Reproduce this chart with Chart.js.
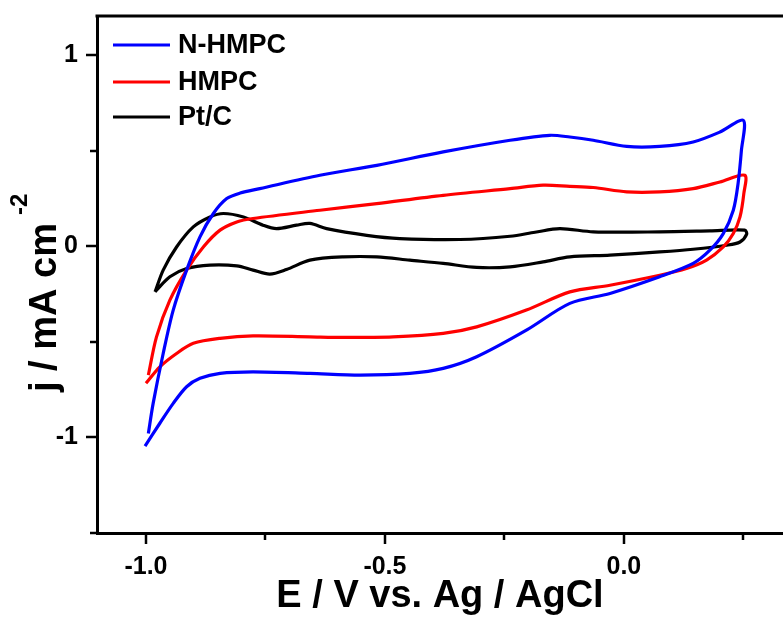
<!DOCTYPE html>
<html>
<head>
<meta charset="utf-8">
<script src="https://cdn.jsdelivr.net/npm/chart.js@4.4.1/dist/chart.umd.min.js"></script>
<style>
  html, body { margin: 0; padding: 0; background: #fff; }
  #wrap { position: relative; width: 783px; height: 622px; }
</style>
</head>
<body>
<div id="wrap"><canvas id="cvChart"></canvas></div>
<script>
// CV curves (E in V vs Ag/AgCl, j in mA cm-2)
const seriesNames = ['N-HMPC', 'HMPC', 'Pt/C'];

const potentialNHMPC = [-0.995, -0.985, -0.964, -0.943, -0.915, -0.887, -0.859, -0.831, -0.803, -0.762, -0.636, -0.517, -0.378, -0.238, -0.155, -0.113, -0.064, 0.006, 0.075, 0.145, 0.201, 0.250,
  0.246, 0.239, 0.229, 0.208, 0.180, 0.145, 0.075, -0.029, -0.113, -0.204, -0.308, -0.378, -0.448, -0.552, -0.657, -0.776, -0.845, -0.887, -0.915, -0.943, -0.971, -1.002];
const currentNHMPC = [-0.979, -0.822, -0.561, -0.334, -0.125, 0.049, 0.171, 0.249, 0.278, 0.301, 0.371, 0.423, 0.493, 0.554, 0.580, 0.571, 0.554, 0.522, 0.522, 0.545, 0.597, 0.658,
  0.502, 0.328, 0.188, 0.066, -0.021, -0.090, -0.160, -0.247, -0.299, -0.439, -0.578, -0.639, -0.665, -0.674, -0.665, -0.657, -0.665, -0.691, -0.735, -0.822, -0.926, -1.045];

const potentialHMPC = [-0.995, -0.978, -0.950, -0.915, -0.880, -0.845, -0.810, -0.776, -0.636, -0.517, -0.378, -0.238, -0.169, -0.113, -0.064, 0.006, 0.075, 0.145, 0.201, 0.253,
  0.251, 0.243, 0.229, 0.208, 0.173, 0.131, 0.075, -0.029, -0.113, -0.204, -0.308, -0.378, -0.483, -0.587, -0.657, -0.776, -0.845, -0.901, -0.936, -0.971, -1.000];
const currentHMPC = [-0.674, -0.474, -0.282, -0.125, -0.004, 0.084, 0.127, 0.145, 0.188, 0.223, 0.266, 0.301, 0.319, 0.313, 0.307, 0.284, 0.284, 0.301, 0.336, 0.371,
  0.275, 0.153, 0.066, -0.004, -0.073, -0.117, -0.152, -0.204, -0.239, -0.334, -0.422, -0.456, -0.474, -0.477, -0.474, -0.469, -0.482, -0.508, -0.561, -0.631, -0.717];

const potentialPtC = [-0.981, -0.964, -0.936, -0.901, -0.866, -0.838, -0.796, -0.755, -0.727, -0.685, -0.657, -0.622, -0.538, -0.469, -0.343, -0.238, -0.186, -0.134, -0.064, 0.075, 0.180, 0.253,
  0.257, 0.243, 0.215, 0.145, 0.075, -0.029, -0.113, -0.169, -0.238, -0.308, -0.378, -0.448, -0.517, -0.587, -0.657, -0.706, -0.741, -0.776, -0.810, -0.866, -0.915, -0.950, -0.978, -0.981];
const currentPtC = [-0.239, -0.125, -0.004, 0.101, 0.153, 0.171, 0.153, 0.110, 0.092, 0.110, 0.119, 0.092, 0.057, 0.040, 0.035, 0.052, 0.073, 0.092, 0.075, 0.075, 0.080, 0.084,
  0.063, 0.022, 0.005, -0.016, -0.030, -0.047, -0.056, -0.082, -0.108, -0.111, -0.090, -0.073, -0.056, -0.056, -0.073, -0.122, -0.146, -0.125, -0.103, -0.099, -0.117, -0.160, -0.230, -0.239];

const xTickValues = [-1.0, -0.75, -0.5, -0.25, 0.0, 0.25];
const xMajorTicks = [-1.0, -0.5, 0.0];
const yTickValues = [-1.5, -1.0, -0.5, 0.0, 0.5, 1.0];
const yMajorTicks = [-1.0, 0.0, 1.0];

const lineColors = ['#0000ff', '#ff0000', '#000000'];
const fontFamily = '"Liberation Sans", Arial, sans-serif';

function toPoints(xs, ys) {
    return xs.map((x, i) => ({ x: x, y: ys[i] }));
}

function isMajor(list, v) {
    return list.some(m => Math.abs(m - v) < 1e-9);
}

// tick marks (major long, minor short) + top frame line
const frameTicks = {
    id: 'frameTicks',
    afterDraw(chart) {
        const ctx = chart.ctx;
        const area = chart.chartArea;
        const xs = chart.scales.x, ys = chart.scales.y;
        ctx.save();
        ctx.strokeStyle = '#000';
        ctx.lineWidth = 3;
        ctx.beginPath();
        ctx.moveTo(area.left - 1.5, area.top);
        ctx.lineTo(area.right, area.top);
        ctx.stroke();
        ctx.lineWidth = 2.5;
        xTickValues.forEach(v => {
            const px = Math.round(xs.getPixelForValue(v));
            const len = isMajor(xMajorTicks, v) ? 11 : 7;
            ctx.beginPath();
            ctx.moveTo(px, area.bottom);
            ctx.lineTo(px, area.bottom + len);
            ctx.stroke();
        });
        yTickValues.forEach(v => {
            const py = Math.round(ys.getPixelForValue(v));
            const len = isMajor(yMajorTicks, v) ? 11 : 7;
            ctx.beginPath();
            ctx.moveTo(area.left, py);
            ctx.lineTo(area.left - len, py);
            ctx.stroke();
        });
        ctx.restore();
    }
};

// y title with superscript, and the line legend
const titlesAndLegend = {
    id: 'titlesAndLegend',
    afterDraw(chart) {
        const ctx = chart.ctx;
        ctx.save();
        ctx.fillStyle = '#000';
        ctx.textBaseline = 'alphabetic';
        ctx.textAlign = 'left';
        ctx.translate(56, 392);
        ctx.rotate(-Math.PI / 2);
        ctx.font = 'bold 38px ' + fontFamily;
        ctx.fillText('j / mA cm', 0, 0);
        const w = ctx.measureText('j / mA cm').width;
        ctx.font = 'bold 24px ' + fontFamily;
        ctx.fillText('-2', w + 8, -29);
        ctx.restore();

        ctx.save();
        ctx.font = 'bold 27px ' + fontFamily;
        ctx.textBaseline = 'middle';
        ctx.textAlign = 'left';
        const rows = [45, 82, 117];
        chart.data.datasets.forEach((ds, i) => {
            ctx.strokeStyle = ds.borderColor;
            ctx.lineWidth = 3.2;
            ctx.beginPath();
            ctx.moveTo(113, rows[i]);
            ctx.lineTo(170, rows[i]);
            ctx.stroke();
            ctx.fillStyle = '#000';
            ctx.fillText(ds.label, 178, rows[i] + 1);
        });
        ctx.restore();
    }
};

const ctx = document.getElementById('cvChart').getContext('2d');
new Chart(ctx, {
    type: 'scatter',
    data: {
        datasets: [
            { label: seriesNames[0], data: toPoints(potentialNHMPC, currentNHMPC), borderColor: lineColors[0] },
            { label: seriesNames[1], data: toPoints(potentialHMPC, currentHMPC), borderColor: lineColors[1] },
            { label: seriesNames[2], data: toPoints(potentialPtC, currentPtC), borderColor: lineColors[2] }
        ]
    },
    options: {
        responsive: true,
        maintainAspectRatio: false,
        devicePixelRatio: 1,
        animation: false,
        showLine: true,
        elements: {
            point: { radius: 0, hoverRadius: 0 },
            line: { borderWidth: 3.2, tension: 0.3, fill: false }
        },
        layout: { padding: { top: 16, right: 0, left: 0, bottom: 0 } },
        plugins: { legend: { display: false }, tooltip: { enabled: false } },
        scales: {
            x: {
                type: 'linear',
                min: -1.1025,
                max: 0.333,
                afterFit: s => { s.height = 89; s.paddingLeft = 0; s.paddingRight = 0; },
                afterBuildTicks: s => { s.ticks = xTickValues.map(v => ({ value: v })); },
                grid: { display: false, drawTicks: true, tickLength: 10 },
                border: { display: true, color: '#000', width: 3 },
                ticks: {
                    color: '#000',
                    padding: 9,
                    maxRotation: 0,
                    font: { family: fontFamily, size: 25, weight: 'bold' },
                    callback: v => isMajor(xMajorTicks, v) ? v.toFixed(1) : ''
                },
                title: {
                    display: true,
                    text: 'E / V vs. Ag / AgCl',
                    color: '#000',
                    padding: { top: 0, bottom: 3 },
                    font: { family: fontFamily, size: 38, weight: 'bold' }
                }
            },
            y: {
                type: 'linear',
                min: -1.5,
                max: 1.204,
                afterFit: s => { s.width = 97; s.paddingTop = 0; s.paddingBottom = 0; },
                afterBuildTicks: s => { s.ticks = yTickValues.map(v => ({ value: v })); },
                grid: { display: false, drawTicks: true, tickLength: 10 },
                border: { display: true, color: '#000', width: 3 },
                ticks: {
                    color: '#000',
                    padding: 9,
                    font: { family: fontFamily, size: 25, weight: 'bold' },
                    callback: v => isMajor(yMajorTicks, v) ? String(v) : ''
                }
            }
        }
    },
    plugins: [frameTicks, titlesAndLegend]
});
</script>
</body>
</html>
